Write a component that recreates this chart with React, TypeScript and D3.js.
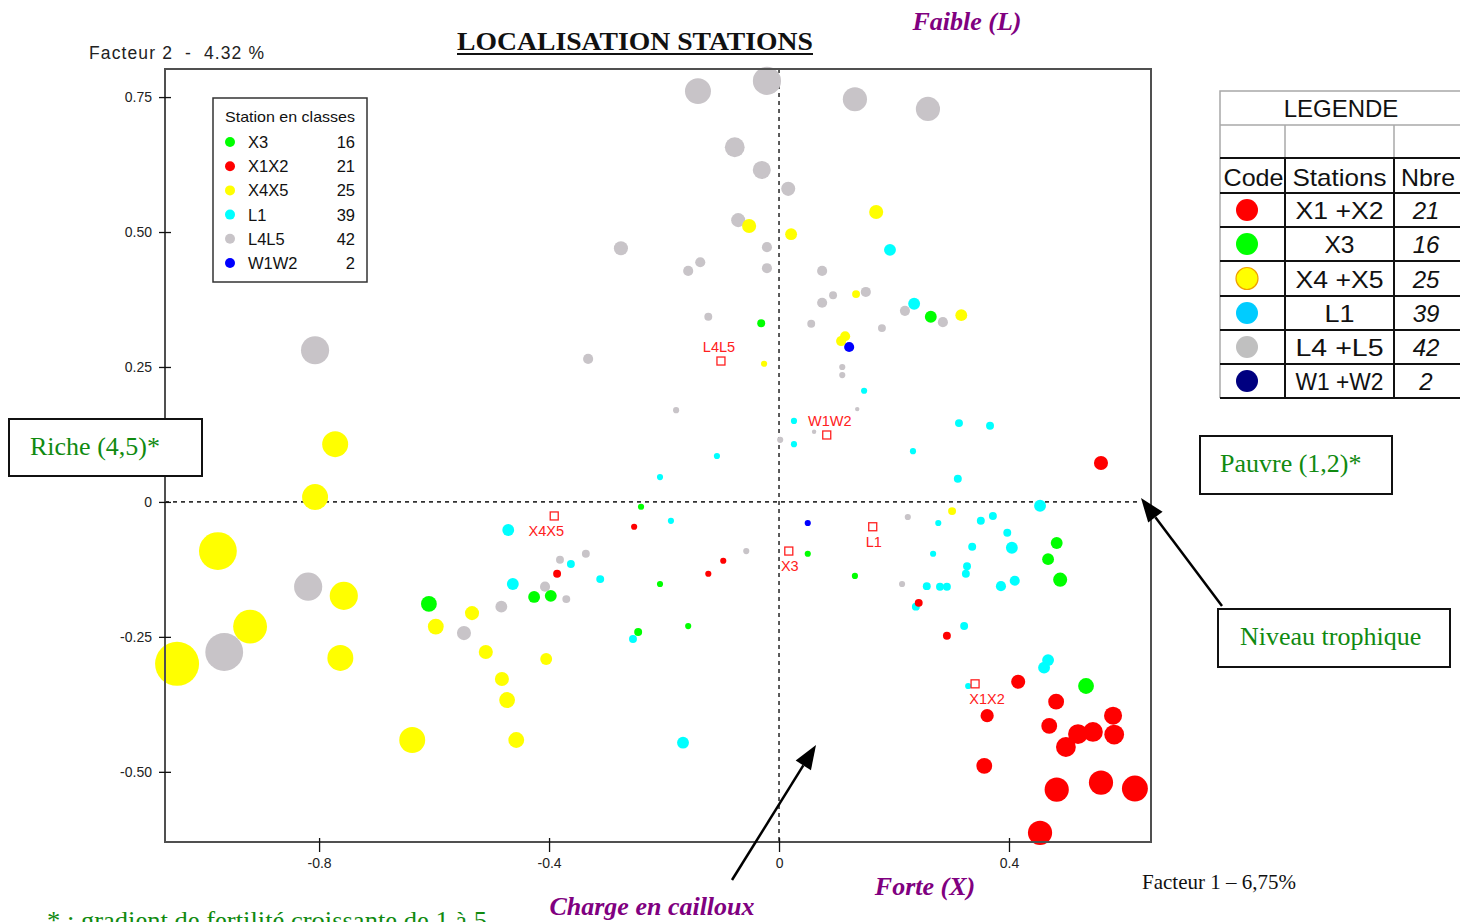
import React, { useEffect, useRef } from "react";
import * as d3 from "d3";

// [facteur 1, facteur 2, qualite de representation]
type Pt = [number, number, number];

const l4l5Pts: Pt[] = [
  [-0.141, 0.761, 0.59], [-0.021, 0.78, 0.64], [0.132, 0.746, 0.55], [0.259, 0.728, 0.55],
  [-0.077, 0.657, 0.45], [-0.03, 0.615, 0.41], [0.016, 0.58, 0.32], [-0.071, 0.522, 0.32],
  [-0.275, 0.47, 0.32], [-0.021, 0.472, 0.23], [-0.137, 0.444, 0.23], [-0.158, 0.428, 0.23],
  [-0.021, 0.433, 0.23], [0.075, 0.428, 0.23], [0.094, 0.383, 0.18], [0.151, 0.389, 0.23],
  [0.075, 0.369, 0.23], [0.219, 0.354, 0.23], [0.285, 0.333, 0.23], [-0.123, 0.343, 0.18],
  [0.056, 0.33, 0.18], [0.179, 0.322, 0.18], [-0.332, 0.265, 0.23], [0.11, 0.25, 0.14],
  [0.11, 0.235, 0.14], [-0.179, 0.17, 0.14], [0.136, 0.172, 0.1], [0.002, 0.115, 0.14],
  [0.061, 0.13, 0.1], [0.224, -0.028, 0.14], [-0.057, -0.091, 0.14], [0.214, -0.152, 0.14],
  [-0.336, -0.096, 0.18], [-0.381, -0.107, 0.18], [-0.407, -0.157, 0.23], [-0.37, -0.18, 0.18],
  [-0.483, -0.194, 0.27], [-0.548, -0.243, 0.32], [-0.819, -0.157, 0.64], [-0.965, -0.278, 0.86],
  [-0.807, 0.281, 0.64],
];

const x4x5Pts: Pt[] = [
  [-0.772, 0.107, 0.59], [-0.807, 0.009, 0.59], [-0.976, -0.091, 0.86], [-0.757, -0.174, 0.64],
  [-0.92, -0.231, 0.77], [-1.047, -0.3, 1.0], [-0.763, -0.289, 0.59], [-0.638, -0.441, 0.59],
  [-0.534, -0.206, 0.32], [-0.597, -0.231, 0.36], [-0.51, -0.278, 0.32], [-0.482, -0.328, 0.32],
  [-0.473, -0.367, 0.36], [-0.457, -0.441, 0.36], [-0.405, -0.291, 0.27], [-0.052, 0.511, 0.32],
  [0.021, 0.496, 0.27], [0.169, 0.537, 0.32], [0.134, 0.385, 0.18], [0.317, 0.346, 0.27],
  [0.108, 0.298, 0.23], [0.115, 0.307, 0.23], [-0.026, 0.256, 0.14], [0.301, -0.017, 0.18],
];

const l1Pts: Pt[] = [
  [0.193, 0.467, 0.27], [0.235, 0.367, 0.27], [0.077, 0.369, 0.14], [0.148, 0.206, 0.14],
  [0.026, 0.15, 0.14], [0.313, 0.146, 0.18], [0.367, 0.141, 0.18], [0.026, 0.107, 0.14],
  [0.233, 0.094, 0.14], [0.311, 0.043, 0.18], [-0.108, 0.085, 0.14], [-0.207, 0.046, 0.14],
  [-0.188, -0.035, 0.14], [0.454, -0.007, 0.27], [0.277, -0.039, 0.14], [0.351, -0.035, 0.18],
  [0.372, -0.026, 0.18], [0.397, -0.057, 0.18], [0.336, -0.083, 0.18], [0.405, -0.085, 0.27],
  [0.268, -0.096, 0.14], [0.327, -0.119, 0.18], [0.325, -0.133, 0.18], [0.257, -0.156, 0.18],
  [0.28, -0.157, 0.18], [0.292, -0.157, 0.18], [0.386, -0.156, 0.23], [0.41, -0.146, 0.23],
  [0.238, -0.194, 0.18], [0.322, -0.23, 0.18], [-0.362, -0.115, 0.18], [-0.311, -0.143, 0.18],
  [-0.471, -0.052, 0.27], [-0.463, -0.152, 0.27], [-0.254, -0.254, 0.18], [-0.167, -0.446, 0.27],
  [0.461, -0.307, 0.27], [0.468, -0.293, 0.27], [0.329, -0.341, 0.14],
];

const x3Pts: Pt[] = [
  [-0.031, 0.331, 0.18], [0.264, 0.343, 0.27], [-0.24, -0.009, 0.14], [0.05, -0.096, 0.14],
  [0.132, -0.137, 0.14], [-0.207, -0.152, 0.14], [-0.158, -0.23, 0.14], [-0.245, -0.241, 0.18],
  [-0.609, -0.189, 0.36], [-0.426, -0.176, 0.27], [-0.397, -0.174, 0.27], [0.483, -0.076, 0.27],
  [0.468, -0.106, 0.27], [0.489, -0.144, 0.32], [0.534, -0.341, 0.36],
];

const x1x2Pts: Pt[] = [
  [0.56, 0.072, 0.32], [0.243, -0.187, 0.18], [0.292, -0.248, 0.18], [0.416, -0.333, 0.32],
  [0.482, -0.37, 0.36], [0.47, -0.415, 0.36], [0.362, -0.396, 0.3], [0.581, -0.396, 0.41],
  [0.546, -0.426, 0.45], [0.52, -0.43, 0.45], [0.583, -0.431, 0.45], [0.499, -0.454, 0.45],
  [0.357, -0.489, 0.36], [0.483, -0.533, 0.55], [0.56, -0.52, 0.55], [0.619, -0.531, 0.59],
  [0.454, -0.613, 0.55], [-0.252, -0.046, 0.14], [-0.386, -0.133, 0.18], [-0.123, -0.133, 0.14],
  [-0.097, -0.109, 0.14],
];

const w1w2Pts: Pt[] = [
  [0.122, 0.287, 0.23], [0.05, -0.039, 0.14],
];

// barycentres des classes
const centreNames = ["L4L5", "W1W2", "X4X5", "X3", "L1", "X1X2"];
const centreX = [-0.101, 0.083, -0.391, 0.017, 0.163, 0.341];
const centreY = [0.261, 0.124, -0.026, -0.091, -0.046, -0.337];

// legende interne
const legendNames = ["X3", "X1X2", "X4X5", "L1", "L4L5", "W1W2"];
const legendCounts = [16, 21, 25, 39, 42, 2];

// tableau LEGENDE
const tableStations = ["X1 +X2", "X3", "X4 +X5", "L1", "L4 +L5", "W1 +W2"];
const tableCounts = [21, 16, 25, 39, 42, 2];

const xTicks = [-0.8, -0.4, 0, 0.4];
const yTicks = [0.75, 0.5, 0.25, 0, -0.25, -0.5];

const colors: Record<string, string> = {
  X3: "#00ff00",
  X1X2: "#ff0000",
  X4X5: "#ffff00",
  L1: "#00ffff",
  L4L5: "#c8c4c8",
  W1W2: "#0000ff",
};
const tableColors = ["#ff0000", "#00ff00", "#ffff00", "#00ccff", "#c0c0c0", "#000080"];
const tableStrokes = ["none", "none", "#f0a000", "none", "none", "none"];

const SANS = "'Liberation Sans', Arial, sans-serif";
const SERIF = "'Liberation Serif', 'Times New Roman', serif";

const fmt = (f: string) => (d: d3.NumberValue) =>
  +d === 0 ? "0" : d3.format(f)(d).replace("\u2212", "-");

const App = () => {
  const svgRef = useRef<SVGSVGElement>(null);

  useEffect(() => {
    const svg = d3.select(svgRef.current);
    svg.selectAll("*").remove();

    const left = 165, right = 1151, top = 69, bottom = 842;

    const x = d3.scaleLinear().domain([-1.068, 0.647]).range([left, right]);
    const y = d3.scaleLinear().domain([-0.63, 0.802]).range([bottom, top]);
    const r = d3.scaleLinear().domain([0, 1]).range([0, 22]);

    // zero lines (dashed)
    svg.append("line")
      .attr("x1", left).attr("x2", 1140)
      .attr("y1", y(0)).attr("y2", y(0))
      .attr("stroke", "#333").attr("stroke-width", 1.6)
      .attr("stroke-dasharray", "4,4");
    svg.append("line")
      .attr("x1", x(0)).attr("x2", x(0))
      .attr("y1", top).attr("y2", bottom)
      .attr("stroke", "#333").attr("stroke-width", 1.6)
      .attr("stroke-dasharray", "4,4");

    // points, par classe
    const groups: [string, Pt[]][] = [
      ["L1", l1Pts],
      ["L4L5", l4l5Pts],
      ["X4X5", x4x5Pts],
      ["X3", x3Pts],
      ["X1X2", x1x2Pts],
      ["W1W2", w1w2Pts],
    ];
    groups.forEach(([name, pts]) => {
      svg.append("g")
        .selectAll("circle")
        .data(pts)
        .enter()
        .append("circle")
        .attr("cx", (d) => x(d[0]))
        .attr("cy", (d) => y(d[1]))
        .attr("r", (d) => r(d[2]))
        .attr("fill", colors[name]);
    });

    // barycentres
    const centres = svg.append("g");
    centreNames.forEach((name, i) => {
      const cx = x(centreX[i]);
      const cy = y(centreY[i]);
      centres.append("rect")
        .attr("x", cx - 4).attr("y", cy - 4)
        .attr("width", 8).attr("height", 8)
        .attr("fill", "white").attr("stroke", "#ff2020").attr("stroke-width", 1.3);
      const above = name === "L4L5" || name === "W1W2";
      const dx = name === "X4X5" ? -8 : name === "X1X2" ? 12 : name === "W1W2" ? 3 : name === "L4L5" ? -2 : 1;
      centres.append("text")
        .attr("x", cx + dx)
        .attr("y", above ? cy - 9 : cy + 20)
        .attr("text-anchor", "middle")
        .attr("font-family", SANS)
        .attr("font-size", 14.5)
        .attr("fill", "#ff2020")
        .text(name);
    });

    // cadre
    svg.append("rect")
      .attr("x", left).attr("y", top)
      .attr("width", right - left).attr("height", bottom - top)
      .attr("fill", "none").attr("stroke", "#505050").attr("stroke-width", 2);

    // axes
    const yAxis = svg.append("g")
      .attr("transform", `translate(${left},0)`)
      .call(d3.axisLeft(y).tickValues(yTicks).tickSize(6).tickPadding(7).tickFormat(fmt(".2f")));
    yAxis.select(".domain").remove();
    yAxis.selectAll(".tick line").attr("x1", 6).attr("stroke", "#111").attr("stroke-width", 1.3);
    yAxis.selectAll(".tick text").attr("font-family", SANS).attr("font-size", 14).attr("fill", "#222");

    const xAxis = svg.append("g")
      .attr("transform", `translate(0,${bottom})`)
      .call(d3.axisBottom(x).tickValues(xTicks).tickSize(10).tickPadding(6).tickFormat(fmt(".1f")));
    xAxis.select(".domain").remove();
    xAxis.selectAll(".tick line").attr("y1", -4).attr("stroke", "#111").attr("stroke-width", 1.3);
    xAxis.selectAll(".tick text").attr("font-family", SANS).attr("font-size", 14).attr("fill", "#222");

    // legende dans le graphique
    const lg = svg.append("g");
    lg.append("rect")
      .attr("x", 213).attr("y", 98).attr("width", 154).attr("height", 184)
      .attr("fill", "white").attr("stroke", "#333").attr("stroke-width", 1.5);
    lg.append("text")
      .attr("x", 225).attr("y", 122)
      .attr("font-family", SANS).attr("font-size", 15).attr("fill", "#111")
      .attr("textLength", 130).attr("lengthAdjust", "spacingAndGlyphs")
      .text("Station en classes");
    legendNames.forEach((name, i) => {
      const yy = 142 + i * 24.2;
      lg.append("circle").attr("cx", 230).attr("cy", yy).attr("r", 5).attr("fill", colors[name]);
      lg.append("text")
        .attr("x", 248).attr("y", yy + 6)
        .attr("font-family", SANS).attr("font-size", 16.5).attr("fill", "#111")
        .text(name);
      lg.append("text")
        .attr("x", 355).attr("y", yy + 6).attr("text-anchor", "end")
        .attr("font-family", SANS).attr("font-size", 16.5).attr("fill", "#111")
        .text(legendCounts[i]);
    });

    // titres et libelles d'axes
    svg.append("text")
      .attr("x", 635).attr("y", 50).attr("text-anchor", "middle")
      .attr("font-family", SERIF).attr("font-weight", "bold").attr("font-size", 25)
      .attr("textLength", 356).attr("lengthAdjust", "spacingAndGlyphs")
      .attr("fill", "#111")
      .text("LOCALISATION STATIONS");
    svg.append("line")
      .attr("x1", 457).attr("x2", 813).attr("y1", 54).attr("y2", 54)
      .attr("stroke", "#111").attr("stroke-width", 2);

    svg.append("text")
      .attr("x", 89).attr("y", 59)
      .attr("font-family", SANS).attr("font-size", 17.5).attr("fill", "#222")
      .attr("xml:space", "preserve")
      .attr("textLength", 175).attr("lengthAdjust", "spacing")
      .text("Facteur 2  -  4.32 %");

    svg.append("text")
      .attr("x", 1142).attr("y", 889)
      .attr("font-family", SERIF).attr("font-size", 21).attr("fill", "#111")
      .text("Facteur 1 \u2013 6,75%");

    // libelles violets
    const purple = [
      { t: "Faible (L)", x: 967, y: 30 },
      { t: "Forte (X)", x: 925, y: 895 },
      { t: "Charge en cailloux", x: 652, y: 915 },
    ];
    purple.forEach((p) => {
      svg.append("text")
        .attr("x", p.x).attr("y", p.y).attr("text-anchor", "middle")
        .attr("font-family", SERIF).attr("font-weight", "bold").attr("font-style", "italic")
        .attr("font-size", 26).attr("fill", "#800080")
        .text(p.t);
    });

    // encadres verts
    const boxes = [
      { t: "Riche (4,5)*", x: 9, y: 419, w: 193, h: 57, tx: 30 },
      { t: "Pauvre (1,2)*", x: 1200, y: 436, w: 192, h: 58, tx: 1220 },
      { t: "Niveau trophique", x: 1218, y: 609, w: 232, h: 58, tx: 1240 },
    ];
    boxes.forEach((b) => {
      svg.append("rect")
        .attr("x", b.x).attr("y", b.y).attr("width", b.w).attr("height", b.h)
        .attr("fill", "white").attr("stroke", "#111").attr("stroke-width", 2);
      svg.append("text")
        .attr("x", b.tx).attr("y", b.y + b.h / 2 + 7)
        .attr("font-family", SERIF).attr("font-size", 26).attr("fill", "#108a10")
        .text(b.t);
    });

    svg.append("text")
      .attr("x", 47).attr("y", 929)
      .attr("font-family", SERIF).attr("font-size", 26).attr("fill", "#108a10")
      .attr("textLength", 440).attr("lengthAdjust", "spacingAndGlyphs")
      .text("* : gradient de fertilit\u00e9 croissante de 1 \u00e0 5");

    // fleches
    const arrow = (x1: number, y1: number, x2: number, y2: number) => {
      const a = Math.atan2(y2 - y1, x2 - x1);
      const len = 24, half = 9;
      const bx = x2 - len * Math.cos(a), by = y2 - len * Math.sin(a);
      svg.append("line")
        .attr("x1", x1).attr("y1", y1).attr("x2", bx).attr("y2", by)
        .attr("stroke", "#000").attr("stroke-width", 2.5);
      const p1 = [bx + half * Math.sin(a), by - half * Math.cos(a)];
      const p2 = [bx - half * Math.sin(a), by + half * Math.cos(a)];
      svg.append("path")
        .attr("d", `M${x2},${y2}L${p1[0]},${p1[1]}L${p2[0]},${p2[1]}Z`)
        .attr("fill", "#000");
    };
    arrow(1222, 606, 1141, 498);
    arrow(732, 880, 816, 745);

    // tableau LEGENDE
    const tb = svg.append("g");
    const tl = 1220, tr = 1462, c1 = 1285, c2 = 1394;
    tb.append("rect")
      .attr("x", tl).attr("y", 91).attr("width", tr - tl).attr("height", 67)
      .attr("fill", "white").attr("stroke", "#a8a8a8").attr("stroke-width", 1.5);
    tb.append("line").attr("x1", tl).attr("x2", tr).attr("y1", 125).attr("y2", 125)
      .attr("stroke", "#a8a8a8").attr("stroke-width", 1.5);
    [c1, c2].forEach((cx) => {
      tb.append("line").attr("x1", cx).attr("x2", cx).attr("y1", 125).attr("y2", 158)
        .attr("stroke", "#a8a8a8").attr("stroke-width", 1.5);
    });
    tb.append("text")
      .attr("x", 1341).attr("y", 117).attr("text-anchor", "middle")
      .attr("font-family", SANS).attr("font-size", 24).attr("fill", "#111")
      .text("LEGENDE");

    const rowTops = [158, 193, 227, 261, 296, 330, 364, 398];
    tb.append("line").attr("x1", tl).attr("x2", tl).attr("y1", 158).attr("y2", 398)
      .attr("stroke", "#a8a8a8").attr("stroke-width", 1.5);
    rowTops.forEach((ry) => {
      tb.append("line").attr("x1", tl).attr("x2", tr).attr("y1", ry).attr("y2", ry)
        .attr("stroke", "#111").attr("stroke-width", 2);
    });
    [c1, c2].forEach((cx) => {
      tb.append("line").attr("x1", cx).attr("x2", cx).attr("y1", 158).attr("y2", 398)
        .attr("stroke", "#111").attr("stroke-width", 2);
    });
    const headers = [
      { t: "Code", x: (tl + c1) / 2 + 1 },
      { t: "Stations", x: (c1 + c2) / 2 },
      { t: "Nbre", x: 1428 },
    ];
    headers.forEach((h) => {
      tb.append("text")
        .attr("x", h.x).attr("y", 186).attr("text-anchor", "middle")
        .attr("font-family", SANS).attr("font-size", 24).attr("fill", "#111")
        .attr("textLength", h.t === "Code" ? 60 : h.t === "Stations" ? 94 : 54)
        .attr("lengthAdjust", "spacingAndGlyphs")
        .text(h.t);
    });
    tableStations.forEach((s, i) => {
      const cy = (rowTops[i + 1] + rowTops[i + 2]) / 2;
      tb.append("circle")
        .attr("cx", 1247).attr("cy", cy).attr("r", 11)
        .attr("fill", tableColors[i])
        .attr("stroke", tableStrokes[i]).attr("stroke-width", 1.2);
      tb.append("text")
        .attr("x", (c1 + c2) / 2).attr("y", cy + 9).attr("text-anchor", "middle")
        .attr("font-family", SANS).attr("font-size", 24).attr("fill", "#111")
        .attr("textLength", s.length > 3 ? 88 : s.length * 15).attr("lengthAdjust", "spacingAndGlyphs")
        .text(s);
      tb.append("text")
        .attr("x", 1426).attr("y", cy + 9).attr("text-anchor", "middle")
        .attr("font-family", SANS).attr("font-style", "italic").attr("font-size", 24).attr("fill", "#111")
        .text(tableCounts[i]);
    });
  }, []);

  return (
    <svg
      ref={svgRef}
      width={1460}
      height={922}
      style={{ position: "absolute", left: 0, top: 0, background: "white" }}
    />
  );
};

export default App;
